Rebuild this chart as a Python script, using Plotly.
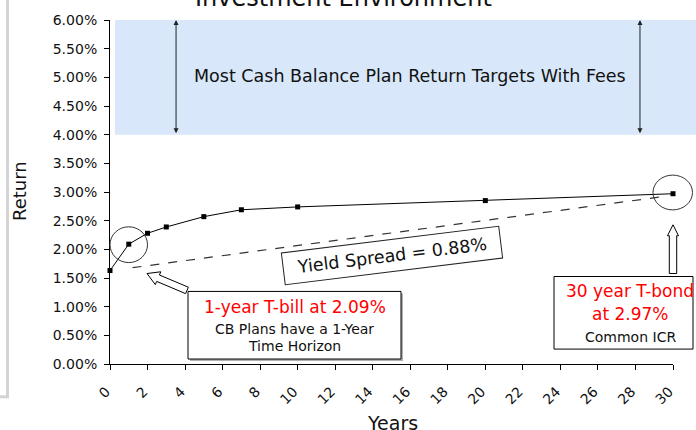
import math
import plotly.graph_objects as go

# ---- data ----
years = [0, 1, 2, 3, 5, 7, 10, 20, 30]
returns_pct = [1.63, 2.09, 2.28, 2.39, 2.57, 2.69, 2.74, 2.85, 2.97]
x_ticks = list(range(0, 31, 2))
y_ticks = [i * 0.5 for i in range(13)]
target_band = [4.0, 6.0]
spread_start = [1.2, 1.68]
spread_end = [29.7, 2.93]
arrow_years = [3.52, 28.24]

title_text = "Investment Environment"
band_text = "Most Cash Balance Plan Return Targets With Fees"
spread_text = "Yield Spread = 0.88%"

FONT = "DejaVu Sans"
W, H = 696, 430
ML, MR, MT, MB = 110, 23, 18, 66
PW = W - ML - MR
PH = H - MT - MB


def px(x):
    return (x - ML) / PW


def py(y):
    return (H - MB - y) / PH


fig = go.Figure()
fig.add_trace(go.Scatter(
    x=years, y=returns_pct, mode="lines+markers",
    line=dict(color="black", width=1),
    marker=dict(symbol="square", size=5, color="black"),
    cliponaxis=False, showlegend=False, hoverinfo="x+y",
))

shapes = []
# blue target band
shapes.append(dict(type="rect", xref="paper", yref="y", x0=px(115), x1=px(700),
                   y0=target_band[0], y1=target_band[1],
                   fillcolor="#d8e8fa", line=dict(width=0), layer="below"))
# dashed spread line
shapes.append(dict(type="line", xref="x", yref="y", x0=spread_start[0], y0=spread_start[1],
                   x1=spread_end[0], y1=spread_end[1],
                   line=dict(color="#333333", width=1.2, dash="dash")))
# circles
shapes.append(dict(type="circle", xref="paper", yref="paper", x0=px(110), x1=px(147.5),
                   y0=py(262), y1=py(226), line=dict(color="#333333", width=1)))
shapes.append(dict(type="circle", xref="paper", yref="paper", x0=px(653), x1=px(692.5),
                   y0=py(209), y1=py(174), line=dict(color="#333333", width=1)))


def block_arrow(tip, tail, head_len, head_half, shaft_half):
    dx, dy = tail[0] - tip[0], tail[1] - tip[1]
    L = math.hypot(dx, dy)
    ux, uy = dx / L, dy / L
    nx, ny = -uy, ux
    hx, hy = tip[0] + ux * head_len, tip[1] + uy * head_len
    pts = [
        tip,
        (hx + nx * head_half, hy + ny * head_half),
        (hx + nx * shaft_half, hy + ny * shaft_half),
        (tail[0] + nx * shaft_half, tail[1] + ny * shaft_half),
        (tail[0] - nx * shaft_half, tail[1] - ny * shaft_half),
        (hx - nx * shaft_half, hy - ny * shaft_half),
        (hx - nx * head_half, hy - ny * head_half),
    ]
    path = "M " + " L ".join(f"{px(a):.5f},{py(b):.5f}" for a, b in pts) + " Z"
    return dict(type="path", xref="paper", yref="paper", path=path,
                fillcolor="white", line=dict(color="black", width=1))


shapes.append(block_arrow((147, 273), (187, 290), 12, 7, 3.5))
shapes.append(block_arrow((673, 224), (673, 273), 11, 5.5, 3.7))

# text boxes (with light shadow for box 1)
shapes.append(dict(type="rect", xref="paper", yref="paper", x0=px(190), x1=px(403),
                   y0=py(361), y1=py(293), fillcolor="#b0b0b0", line=dict(width=0)))
shapes.append(dict(type="rect", xref="paper", yref="paper", x0=px(188), x1=px(401),
                   y0=py(359), y1=py(291), fillcolor="white",
                   line=dict(color="black", width=1)))
shapes.append(dict(type="rect", xref="paper", yref="paper", x0=px(554), x1=px(693),
                   y0=py(349), y1=py(276), fillcolor="white",
                   line=dict(color="black", width=1)))
# left gray frame
shapes.append(dict(type="line", xref="paper", yref="paper", x0=px(7.5), x1=px(7.5),
                   y0=py(-2), y1=py(398), line=dict(color="#d4d4d4", width=3)))
shapes.append(dict(type="line", xref="paper", yref="paper", x0=px(-2), x1=px(9),
                   y0=py(397), y1=py(397), line=dict(color="#d4d4d4", width=3)))

ann = []


def txt(x, y, text, size, color="#111111", **kw):
    d = dict(xref="paper", yref="paper", x=px(x), y=py(y), text=text, showarrow=False,
             xanchor="center", yanchor="middle",
             font=dict(family=FONT, size=size, color=color))
    d.update(kw)
    ann.append(d)


txt(343, -4, title_text, 24)
txt(409.5, 74, band_text, 17.5)
txt(392, 255, spread_text, 17.5, textangle=-7, bordercolor="#222222", borderwidth=1,
    borderpad=3, width=212, height=25, bgcolor="white")
txt(294.5, 306.5, "1-year T-bill at 2.09%", 17, color="#ff0000")
txt(294, 329, "CB Plans have a 1-Year", 14)
txt(294, 346, "Time Horizon", 14)
txt(630, 290.5, "30 year T-bond", 17, color="#ff0000")
txt(630, 314, "at 2.97%", 17, color="#ff0000")
txt(630, 337, "Common ICR", 14)
txt(19, 190, "Return", 18, textangle=-90)
txt(392, 423, "Years", 19)

for xa in arrow_years:
    ann.append(dict(xref="x", yref="y", axref="x", ayref="y", x=xa, y=target_band[1],
                    ax=xa, ay=target_band[0], text="", showarrow=True,
                    arrowhead=2, startarrowhead=2, arrowside="end+start",
                    arrowsize=1, startarrowsize=1, arrowwidth=1, arrowcolor="#222222",
                    standoff=0, startstandoff=0))

fig.update_layout(
    width=W, height=H, autosize=False,
    margin=dict(l=ML, r=MR, t=MT, b=MB),
    paper_bgcolor="white", plot_bgcolor="white",
    font=dict(family=FONT, size=14, color="#111111"),
    shapes=shapes, annotations=ann, showlegend=False,
)
fig.update_xaxes(range=[0, 30], tickvals=x_ticks, ticktext=[str(v) for v in x_ticks],
                 tickangle=-45, ticks="outside", ticklen=5, tickcolor="black",
                 ticklabelstandoff=8, ticklabelshift=-4,
                 showline=True, linecolor="black", linewidth=1, showgrid=False,
                 zeroline=False, tickfont=dict(family=FONT, size=14, color="#111111"))
fig.update_yaxes(range=[0, 6], tickvals=y_ticks, ticktext=[f"{v:.2f}%" for v in y_ticks],
                 ticks="outside", ticklen=5, tickcolor="black", ticklabelstandoff=4,
                 showline=True, linecolor="black", linewidth=1, showgrid=False,
                 zeroline=False, tickfont=dict(family=FONT, size=14, color="#111111"))

fig.write_html("out.html", config={"displayModeBar": False},
               post_script="document.body.style.margin='0px';")
